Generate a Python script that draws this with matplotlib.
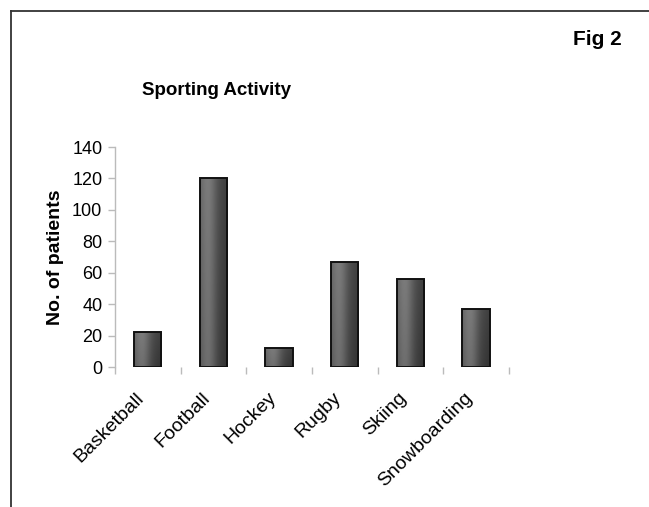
import numpy as np
import matplotlib.pyplot as plt
from matplotlib.lines import Line2D
from matplotlib.transforms import ScaledTranslation

plt.rcParams['font.family'] = ['Liberation Sans', 'DejaVu Sans']

sports = ['Basketball', 'Football', 'Hockey', 'Rugby', 'Skiing', 'Snowboarding']
patients = [22, 120, 12, 67, 56, 37]
yticks = [0, 20, 40, 60, 80, 100, 120, 140]

fig = plt.figure(figsize=(6.49, 5.07), dpi=100)
ax = fig.add_axes([0.177, 0.276, 0.607, 0.434])

x = np.arange(len(sports))
bars = ax.bar(x, patients, width=0.42, facecolor='none', edgecolor='#111111', linewidth=1.4, zorder=3)

# shaded fill: lighter stripe on the left, dark toward the right and bottom
gx = np.linspace(0, 1, 60)
gy = np.linspace(0, 1, 60)
GX, GY = np.meshgrid(gx, gy)
shade = 0.30 + 0.16 * np.exp(-((GX - 0.3) / 0.3) ** 2) - 0.10 * GX + 0.05 * GY
for b in bars:
    x0, y0 = b.get_x(), b.get_y()
    w, h = b.get_width(), b.get_height()
    im = ax.imshow(shade, cmap='gray', vmin=0, vmax=1, origin='lower',
                   extent=[x0, x0 + w, y0, y0 + h], aspect='auto', zorder=2)
    im.set_clip_path(b)

ax.set_xlim(-0.5, len(sports) - 0.5)
ax.set_ylim(0, 140)
ax.set_yticks(yticks)
ax.set_xticks(np.arange(len(sports) + 1) - 0.5, minor=True)
ax.set_xticks(x)
ax.set_xticklabels(sports, rotation=45, ha='right', va='top', rotation_mode='anchor', fontsize=14)
ax.tick_params(axis='x', which='major', length=0, pad=16)
ax.tick_params(axis='x', which='minor', length=5, color='#bbbbbb', width=1)
ax.tick_params(axis='y', length=5, color='#bbbbbb', width=1, labelsize=13, pad=4)
shift = ScaledTranslation(-12 / 100, 0, fig.dpi_scale_trans)
for lab in ax.get_xticklabels():
    lab.set_transform(lab.get_transform() + shift)

for s in ['top', 'right', 'bottom']:
    ax.spines[s].set_visible(False)
ax.spines['left'].set_color('#bbbbbb')
ax.spines['left'].set_linewidth(1)

ax.set_ylabel('No. of patients', fontsize=14, fontweight='bold', labelpad=6)

fig.text(0.333, 0.822, 'Sporting Activity', fontsize=13.5, fontweight='bold', ha='center', va='center')
fig.text(0.958, 0.922, 'Fig 2', fontsize=15, fontweight='bold', ha='right', va='center')

# frame around the figure (top and left edges)
fx = 11 / 649
fy = 1 - 11 / 507
fig.add_artist(Line2D([fx, 1], [fy, fy], color='#333333', linewidth=1.3, transform=fig.transFigure))
fig.add_artist(Line2D([fx, fx], [0, fy], color='#333333', linewidth=1.3, transform=fig.transFigure))

fig.savefig('out.png', dpi=100)
